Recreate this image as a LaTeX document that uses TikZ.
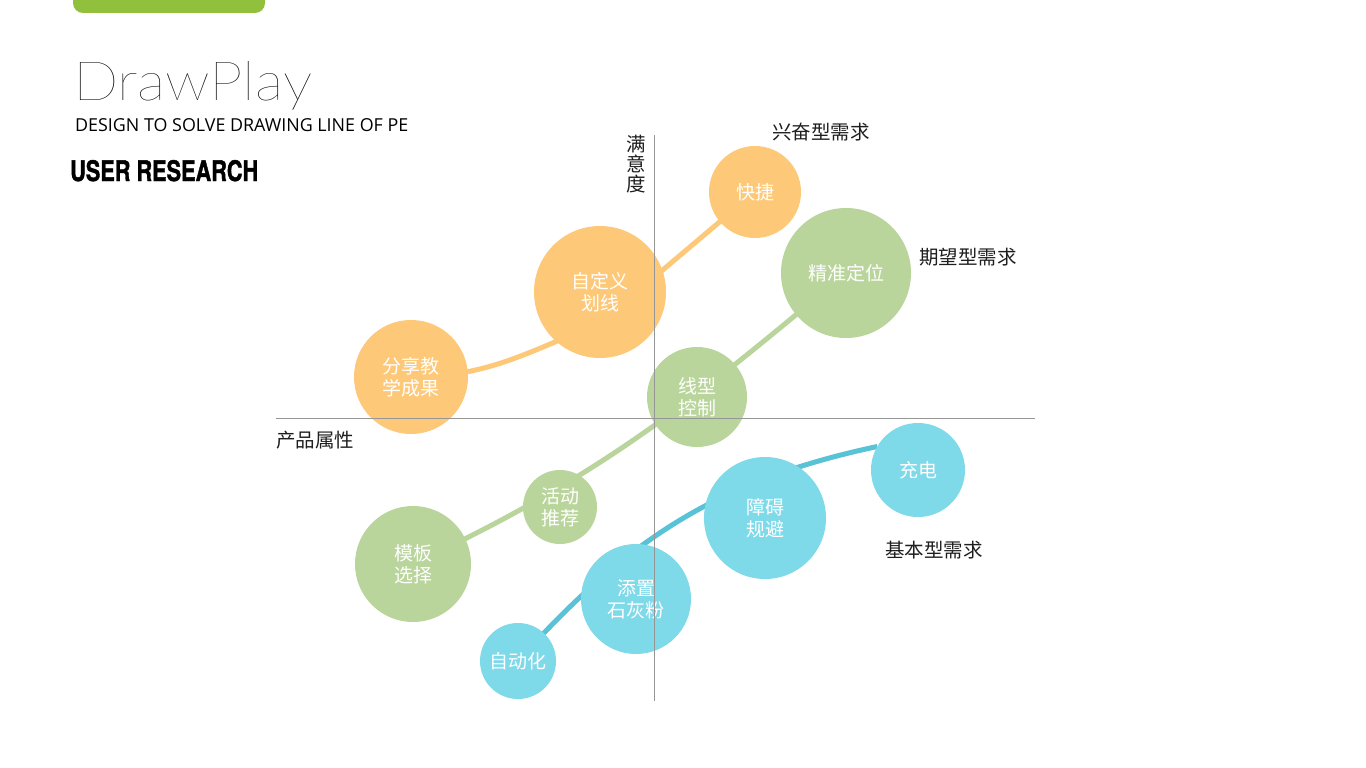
\documentclass[tikz,border=0pt]{standalone}
\usepackage{fontspec}
\usepackage{xcolor}
\usetikzlibrary{backgrounds}
\setmainfont{Noto Sans CJK SC}
\newfontfamily\cjk{Noto Sans CJK SC}
\newfontfamily\titlefont{Lato Thin}
\newfontfamily\subfont{Open Sans}
\newfontfamily\headfont{TeX Gyre Heros}[BoldFeatures={FakeBold=1.6}]
\definecolor{barGreen}{RGB}{145,192,60}
\definecolor{bubOrange}{RGB}{253,200,120}
\definecolor{bubGreen}{RGB}{185,213,156}
\definecolor{bubBlue}{RGB}{126,217,233}
\definecolor{lineBlue}{RGB}{88,194,214}
\definecolor{axisGray}{RGB}{150,150,150}
\definecolor{labelInk}{RGB}{30,30,30}

\begin{document}
\begin{tikzpicture}[x=1pt, y=-1pt,
  bubble/.style={circle, inner sep=0pt, outer sep=0pt, text=white, align=center,
    font=\cjk\fontsize{19}{22}\selectfont},
  orangebub/.style={bubble, fill=bubOrange},
  greenbub/.style={bubble, fill=bubGreen},
  bluebub/.style={bubble, fill=bubBlue},
  link/.style={line width=5pt},
  axis/.style={axisGray, line width=0.9pt},
  tag/.style={text=labelInk, inner sep=0pt, font=\cjk\fontsize{19.5}{20}\selectfont}]
\useasboundingbox (0,0) rectangle (1366,768);
% header
\fill[barGreen, rounded corners=10pt] (73,-20) rectangle (265,13);
\node[anchor=base west, inner sep=0pt] (title) at (73,100) {\resizebox{239pt}{39pt}{\titlefont DrawPlay}};
\node[anchor=base west, inner sep=0pt] (subtitle) at (75,131) {\resizebox{333pt}{!}{\subfont DESIGN TO SOLVE DRAWING LINE OF PE}};
\node[anchor=base west, inner sep=0pt] (section) at (70,181) {\resizebox{188pt}{21pt}{\headfont\bfseries USER RESEARCH}};
% bubbles
\node[orangebub, minimum size=92pt] (kj) at (755,192) {快捷};
\node[orangebub, minimum size=132pt] (zdy) at (600,292) {自定义\\划线};
\node[orangebub, minimum size=114pt] (fx) at (411,377) {分享教\\学成果};
\node[greenbub, minimum size=130pt] (jz) at (846,273) {精准定位};
\node[greenbub, minimum size=100pt] (xx) at (697,397) {线型\\控制};
\node[greenbub, minimum size=74pt] (hd) at (560,507) {活动\\推荐};
\node[greenbub, minimum size=116pt] (mb) at (413,564) {模板\\选择};
\node[bluebub, minimum size=94pt] (cd) at (918,470) {充电};
\node[bluebub, minimum size=122pt] (za) at (765,518) {障碍\\规避};
\node[bluebub, minimum size=110pt] (tz) at (636,599) {添置\\石灰粉};
\node[bluebub, minimum size=76pt] (zdh) at (518,661) {自动化};
% curves behind the bubbles
\begin{scope}[on background layer]
\fill[white] (0,0) rectangle (1366,768);
\draw[link, bubOrange] (fx.center) to[out=0, in=-158] ([yshift=-31pt]zdy.center) -- (kj.center);
\draw[link, bubGreen] (mb.center) to[out=25, in=-140] (jz.center);
\draw[link, lineBlue] (zdh.center) to[out=48, in=-168] (cd.150);
\end{scope}
% axes
\coordinate (xl) at (276,418);
\coordinate (xr) at (1035,418);
\coordinate (yt) at (654,135);
\coordinate (yb) at (654,701);
\draw[axis] (xl) -- (xr);
\draw[axis] (yt) -- (yb);
\node[tag, align=center] (sat) at (636,164) {满\\意\\度};
\node[tag] (attr) at (315,440) {产品属性};
\node[tag] (exc) at (821,132) {兴奋型需求};
\node[tag] (exp) at (968,257) {期望型需求};
\node[tag] (bas) at (934,550) {基本型需求};
\end{tikzpicture}
\end{document}
